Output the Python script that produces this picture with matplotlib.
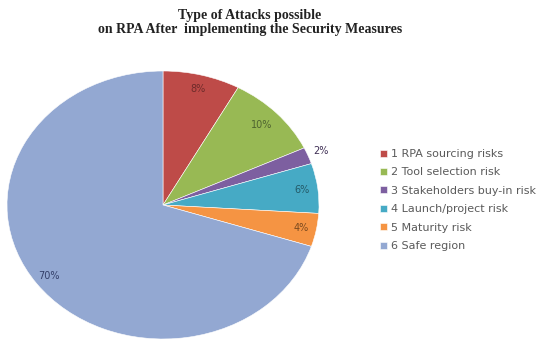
import matplotlib
matplotlib.use("Agg")
import matplotlib.pyplot as plt
import numpy as np

categories = ["1 RPA sourcing risks", "2 Tool selection risk", "3 Stakeholders buy-in risk",
              "4 Launch/project risk", "5 Maturity risk", "6 Safe region"]
values = [8, 10, 2, 6, 4, 70]
pct_labels = ["8%", "10%", "2%", "6%", "4%", "70%"]
colors = ["#BE4B48", "#98B954", "#7D5FA0", "#46AAC5", "#F59443", "#93A8D2"]
label_colors = ["#6E2B2A", "#4E6330", "#3F2F55", "#245A68", "#7A4A20", "#34406A"]
label_dist = [0.89, 0.87, 1.09, 0.90, 0.90, 0.90]

W, H = 539, 342
fig = plt.figure(figsize=(W / 100, H / 100), dpi=100)

cx, cy, rx, ry = 163, 205, 156, 134
ax = fig.add_axes([(cx - rx) / W, (H - cy - ry) / H, 2 * rx / W, 2 * ry / H])
wedges, _ = ax.pie(values, colors=colors, startangle=90, counterclock=False,
                   wedgeprops=dict(edgecolor="white", linewidth=0.4))
ax.set_aspect("auto")
ax.set_xlim(-1, 1)
ax.set_ylim(-1, 1)
ax.axis("off")

total = sum(values)
start = 90.0
for v, lab, lc, d in zip(values, pct_labels, label_colors, label_dist):
    mid = np.deg2rad(start - v / total * 360 / 2)
    ax.text(d * np.cos(mid), d * np.sin(mid), lab, ha="center", va="center",
            fontsize=7, color=lc, family=["DejaVu Sans"])
    start -= v / total * 360

fig.text(250 / W, 1 - 15 / H, "Type of Attacks possible", ha="center", va="center",
         fontsize=10, fontweight="bold", family=["Liberation Serif"], color="#222222")
fig.text(250 / W, 1 - 29 / H, "on RPA After  implementing the Security Measures", ha="center",
         va="center", fontsize=10, fontweight="bold", family=["Liberation Serif"], color="#222222")

leg = fig.legend(wedges, categories, loc="upper left", bbox_to_anchor=(380 / W, 1 - 149 / H),
                 frameon=False, labelspacing=0.76, handlelength=0.6,
                 handleheight=0.6, handletextpad=0.4, borderaxespad=0, borderpad=0,
                 prop={"family": ["DejaVu Sans"], "size": 8})
for t in leg.get_texts():
    t.set_color("#5A5A5A")

fig.savefig("out.png", dpi=100)
